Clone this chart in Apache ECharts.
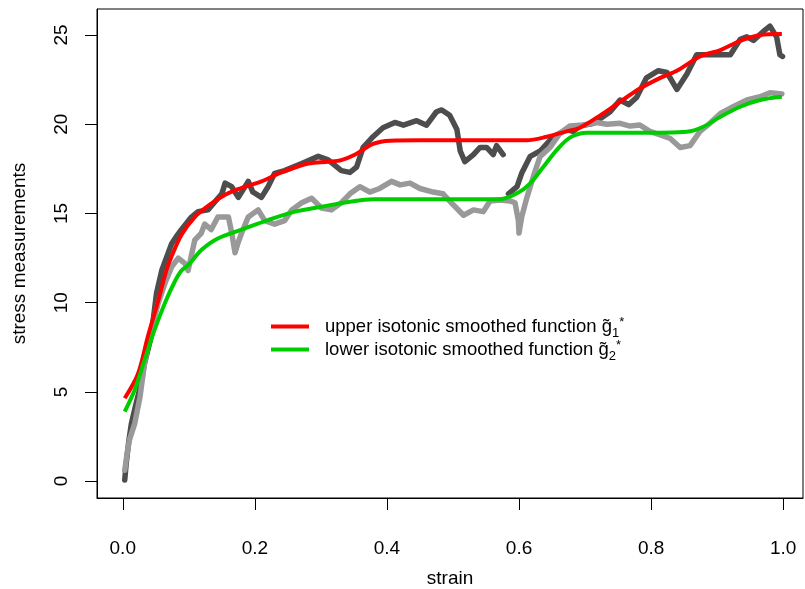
<!DOCTYPE html>
<html>
<head>
<meta charset="utf-8">
<script src="https://cdn.jsdelivr.net/npm/echarts@6/dist/echarts.min.js"></script>
<style>
    html, body { margin: 0; padding: 0; background: #fff; }
    #chart { width: 805px; height: 589px; }
</style>
</head>
<body>
<div id="chart"></div>
<script>
    // tick positions
    var strainTicks = [0, 0.2, 0.4, 0.6, 0.8, 1.0];
    var stressTicks = [0, 5, 10, 15, 20, 25];

    // upper observations (dark dots), split where the record jumps
    var upperObsA = [[0.003,0.06],[0.005,0.9],[0.009,2.2],[0.013,3.2],[0.018,4.0],[0.026,5.2],[0.033,6.6],[0.043,8.1],
        [0.051,10.5],[0.059,11.8],[0.066,12.5],[0.074,13.3],[0.081,13.7],[0.089,14.1],[0.104,14.8],[0.114,15.1],
        [0.129,15.2],[0.150,16.1],[0.155,16.7],[0.165,16.5],[0.175,15.9],[0.190,16.8],[0.197,16.2],[0.210,15.9],
        [0.220,16.5],[0.230,17.25],[0.245,17.4],[0.271,17.8],[0.296,18.2],[0.311,18.0],[0.331,17.4],[0.344,17.3],
        [0.354,17.6],[0.364,18.7],[0.379,19.3],[0.394,19.8],[0.412,20.1],[0.425,19.95],[0.445,20.2],[0.460,19.95],
        [0.475,20.7],[0.483,20.8],[0.495,20.5],[0.506,19.7],[0.511,18.5],[0.518,17.9],[0.531,18.3],[0.541,18.7],
        [0.551,18.7],[0.561,18.3],[0.566,18.8],[0.576,18.3]];
    var upperObsB = [[0.584,16.1],[0.597,16.5],[0.604,17.25],[0.617,18.2],[0.632,18.5],[0.642,18.9],[0.652,19.3],
        [0.672,19.7],[0.682,19.6],[0.692,19.9],[0.713,20.05],[0.738,20.7],[0.753,21.36],[0.766,21.1],[0.778,21.5],
        [0.793,22.6],[0.811,23.0],[0.824,22.9],[0.839,21.95],[0.854,22.8],[0.869,23.9],[0.894,23.9],[0.920,23.9],
        [0.935,24.76],[0.945,24.9],[0.955,24.7],[0.970,25.2],[0.980,25.5],[0.990,24.9],[0.995,23.9],[0.999,23.8]];

    // lower observations (light dots)
    var lowerObs = [[0.003,0.6],[0.006,1.4],[0.010,2.3],[0.018,3.2],[0.026,4.7],[0.033,6.6],[0.043,8.5],[0.054,10.0],
        [0.064,11.1],[0.074,12.0],[0.084,12.5],[0.094,12.2],[0.099,11.8],[0.109,13.5],[0.119,13.9],[0.124,14.4],
        [0.134,14.1],[0.144,14.8],[0.160,14.8],[0.165,13.9],[0.170,12.8],[0.175,13.4],[0.180,13.9],[0.190,14.8],
        [0.205,15.2],[0.215,14.6],[0.230,14.4],[0.245,14.6],[0.256,15.2],[0.271,15.6],[0.286,15.85],[0.301,15.3],
        [0.316,15.2],[0.331,15.6],[0.344,16.1],[0.359,16.5],[0.374,16.2],[0.389,16.4],[0.407,16.8],[0.420,16.6],
        [0.435,16.7],[0.450,16.4],[0.470,16.2],[0.485,16.1],[0.500,15.5],[0.516,14.9],[0.531,15.2],[0.546,15.1],
        [0.556,15.7],[0.571,15.75],[0.586,15.7],[0.594,15.6],[0.599,14.6],[0.600,13.9],[0.604,14.8],[0.612,15.9],
        [0.622,17.1],[0.632,18.2],[0.647,18.7],[0.662,19.5],[0.677,19.9],[0.697,19.96],[0.718,20.1],[0.733,20.0],
        [0.753,20.05],[0.768,19.9],[0.783,19.96],[0.798,19.6],[0.814,19.4],[0.829,19.2],[0.844,18.7],[0.859,18.8],
        [0.874,19.6],[0.889,20.05],[0.905,20.6],[0.925,21.0],[0.945,21.36],[0.965,21.54],[0.980,21.77],[0.998,21.7]];

    // smoothed fits
    var upperFit = [[0.003,4.64],[0.023,6.0],[0.038,8.1],[0.054,10.15],[0.066,11.8],[0.074,12.6],[0.089,13.8],
        [0.109,14.8],[0.134,15.55],[0.155,16.05],[0.170,16.3],[0.210,16.8],[0.240,17.3],[0.281,17.8],[0.311,17.9],
        [0.331,17.99],[0.352,18.3],[0.379,18.9],[0.405,19.08],[0.45,19.1],[0.5,19.1],[0.55,19.1],[0.612,19.1],
        [0.642,19.3],[0.672,19.6],[0.692,19.8],[0.723,20.5],[0.753,21.26],[0.783,22.0],[0.814,22.6],[0.839,23.0],
        [0.874,23.8],[0.905,24.16],[0.935,24.68],[0.965,25.0],[0.998,25.06]];
    var lowerFit = [[0.003,3.89],[0.018,5.1],[0.033,6.78],[0.048,8.46],[0.064,10.0],[0.079,11.2],[0.089,11.8],
        [0.099,12.1],[0.119,12.95],[0.144,13.6],[0.185,14.16],[0.220,14.63],[0.261,15.1],[0.301,15.38],[0.352,15.7],
        [0.379,15.79],[0.45,15.8],[0.571,15.8],[0.597,16.13],[0.617,16.69],[0.637,17.62],[0.657,18.55],[0.677,19.25],
        [0.703,19.52],[0.78,19.52],[0.854,19.58],[0.879,19.86],[0.905,20.42],[0.935,20.98],[0.965,21.36],[0.998,21.54]];

    var fontFam = "'Liberation Sans', Arial, sans-serif";
    var chart = echarts.init(document.getElementById('chart'), null, {renderer: 'canvas'});

    function obsSeries(data, color) {
        return {
            type: 'line',
            data: data,
            showSymbol: false,
            silent: true,
            lineStyle: {color: color, width: 5.5, cap: 'round', join: 'round'}
        };
    }

    var option = {
        animation: false,
        backgroundColor: '#fff',
        textStyle: {fontFamily: fontFam},
        grid: {
            left: 97, right: 2, top: 9, bottom: 91,
            outerBoundsMode: 'none',
            show: true, borderColor: '#000', borderWidth: 1
        },
        legend: {
            data: ['upper isotonic smoothed function', 'lower isotonic smoothed function'],
            orient: 'vertical',
            left: 271,
            top: 313,
            padding: 0,
            itemWidth: 38,
            itemHeight: 4,
            itemGap: -4,
            icon: 'rect',
            textStyle: {
                fontFamily: fontFam,
                fontSize: 18.5,
                color: '#000',
                padding: [0, 0, 0, 11],
                rich: {
                    m: {fontSize: 18.5, lineHeight: 22, verticalAlign: 'middle', fontFamily: fontFam},
                    sub: {fontSize: 13, lineHeight: 22, verticalAlign: 'middle', padding: [14, 0, 0, 0], fontFamily: fontFam},
                    sup: {fontSize: 13, lineHeight: 22, verticalAlign: 'middle', padding: [0, 0, 8, 0], fontFamily: fontFam}
                }
            },
            formatter: function (name) {
                var idx = name.indexOf('upper') === 0 ? '1' : '2';
                return '{m|' + name + ' g\u0303}{sub|' + idx + '}{sup|*}';
            }
        },
        xAxis: {
            type: 'value',
            min: -0.039,
            max: 1.03,
            name: 'strain',
            nameLocation: 'middle',
            nameGap: 71,
            nameTextStyle: {fontSize: 19, color: '#000', fontFamily: fontFam},
            splitLine: {show: false},
            axisLine: {show: true, onZero: false, lineStyle: {color: '#000', width: 1}},
            axisTick: {show: true, inside: false, length: 12, customValues: strainTicks, lineStyle: {color: '#000', width: 1}},
            axisLabel: {
                customValues: strainTicks,
                fontSize: 19, color: '#000', margin: 41,
                formatter: function (v) { return v.toFixed(1); }
            }
        },
        yAxis: {
            type: 'value',
            min: -0.95,
            max: 26.46,
            name: 'stress measurements',
            nameLocation: 'middle',
            nameGap: 68,
            nameTextStyle: {fontSize: 19, color: '#000', fontFamily: fontFam},
            splitLine: {show: false},
            axisLine: {show: true, onZero: false, lineStyle: {color: '#000', width: 1}},
            axisTick: {show: true, inside: false, length: 12, customValues: stressTicks, lineStyle: {color: '#000', width: 1}},
            axisLabel: {
                customValues: stressTicks,
                rotate: 90,
                fontSize: 19, color: '#000', margin: 26,
                formatter: function (v) { return String(v); }
            }
        },
        series: [
            obsSeries(upperObsA, '#4d4d4d'),
            obsSeries(upperObsB, '#4d4d4d'),
            obsSeries(lowerObs, '#999999'),
            {
                name: 'upper isotonic smoothed function',
                type: 'line',
                data: upperFit,
                smooth: 0.3,
                showSymbol: false,
                itemStyle: {color: '#ff0000'},
                lineStyle: {color: '#ff0000', width: 4}
            },
            {
                name: 'lower isotonic smoothed function',
                type: 'line',
                data: lowerFit,
                smooth: 0.3,
                showSymbol: false,
                itemStyle: {color: '#00cd00'},
                lineStyle: {color: '#00cd00', width: 4}
            }
        ]
    };
    chart.setOption(option);
</script>
</body>
</html>
